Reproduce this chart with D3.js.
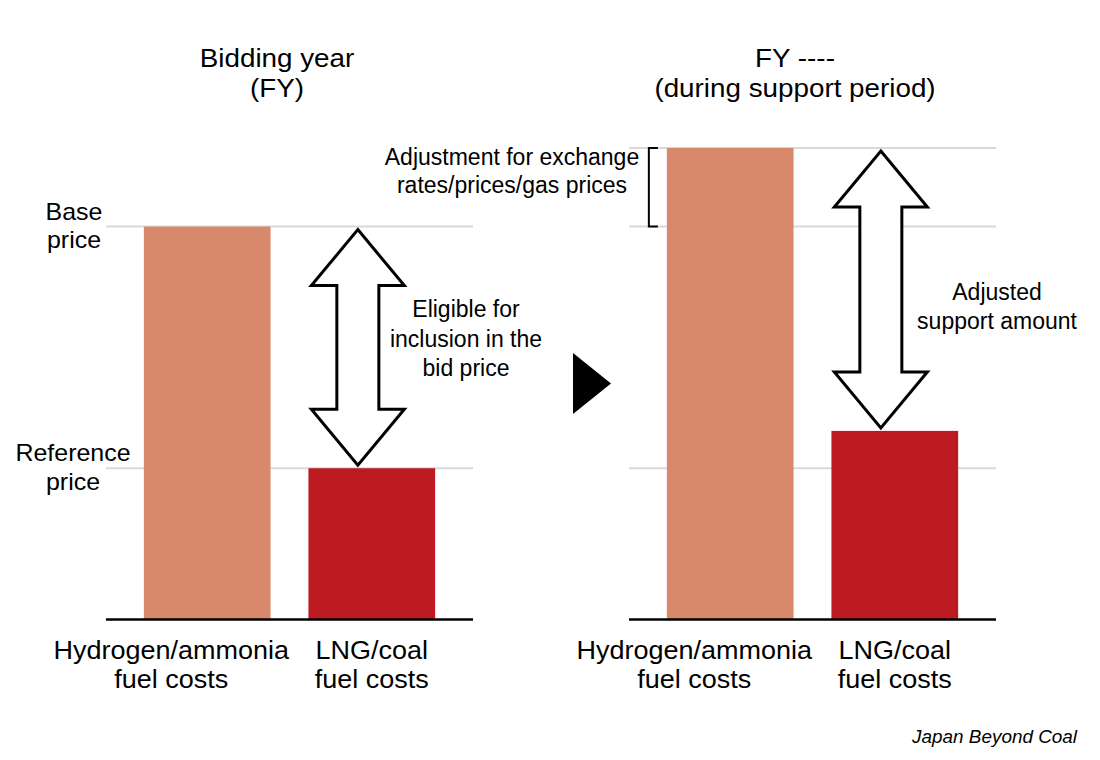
<!DOCTYPE html>
<html>
<head>
<meta charset="utf-8">
<script src="https://cdn.jsdelivr.net/npm/d3@7"></script>
<style>
  body { margin: 0; background: #fff; }
  text { font-family: "Liberation Sans", Arial, sans-serif; fill: #000; }
</style>
</head>
<body>
<script>
// data
var categories = ["Hydrogen/ammonia fuel costs", "LNG/coal fuel costs"];
var biddingValues = [100, 38.5];   // base price, reference price
var supportValues = [120, 48];     // adjusted hydrogen cost, adjusted LNG/coal cost
var biddingTicks = [100, 38.5];
var supportTicks = [120, 100, 38.5];
var colors = ["#D9896B", "#BE1A22"];

var width = 1100;
var height = 760;

var svg = d3.select("body")
    .append("svg")
    .attr("width", width)
    .attr("height", height);

var y = d3.scaleLinear().domain([0, 120]).range([619.5, 148]);

// sx: horizontal stretch, the source text is a bit wider than Arial in places
function label(x, yy, lines, size, lineH, sx, style, anchor) {
    lines.forEach(function(t, i) {
        svg.append("text")
            .attr("transform", "translate(" + x + "," + (yy + i * lineH) + ") scale(" + sx + ",1)")
            .attr("text-anchor", anchor || "middle")
            .attr("font-size", size)
            .attr("font-style", style || "normal")
            .text(t);
    });
}

function arrow(cx, y0, y1) {
    var hw = 46.5, sw = 21, hh = 56;
    var pts = [
        [cx, y0], [cx + hw, y0 + hh], [cx + sw, y0 + hh], [cx + sw, y1 - hh],
        [cx + hw, y1 - hh], [cx, y1], [cx - hw, y1 - hh], [cx - sw, y1 - hh],
        [cx - sw, y0 + hh], [cx - hw, y0 + hh]
    ];
    svg.append("path")
        .attr("d", d3.line()(pts) + "Z")
        .attr("fill", "#fff")
        .attr("stroke", "#000")
        .attr("stroke-width", 3)
        .attr("stroke-linejoin", "miter");
}

function panel(x0, x1, values, ticks) {
    var x = d3.scaleBand().domain(categories).range([x0, x1])
        .paddingInner(0.23).paddingOuter(0.23);

    svg.append("g").selectAll("line")
        .data(ticks)
        .enter()
        .append("line")
        .attr("x1", x0).attr("x2", x1)
        .attr("y1", function(d) { return y(d); })
        .attr("y2", function(d) { return y(d); })
        .attr("stroke", "#D9D9D9")
        .attr("stroke-width", 2);

    svg.append("g").selectAll("rect")
        .data(values)
        .enter()
        .append("rect")
        .attr("x", function(d, i) { return x(categories[i]); })
        .attr("width", x.bandwidth())
        .attr("y", function(d) { return y(d); })
        .attr("height", function(d) { return y(0) - y(d); })
        .attr("fill", function(d, i) { return colors[i]; });

    svg.append("line")
        .attr("x1", x0).attr("x2", x1)
        .attr("y1", y(0)).attr("y2", y(0))
        .attr("stroke", "#000")
        .attr("stroke-width", 2.5);

    label(x(categories[0]) + x.bandwidth() / 2 - 36, 659, ["Hydrogen/ammonia", "fuel costs"], 25, 29, 1.08);
    label(x(categories[1]) + x.bandwidth() / 2, 659, ["LNG/coal", "fuel costs"], 25, 29, 1.08);

    arrow(x(categories[1]) + x.bandwidth() * 0.39, y(values[0]) + 3, y(values[1]) - 3);
    return x;
}

var xl = panel(106, 473, biddingValues, biddingTicks);
var xr = panel(629, 996, supportValues, supportTicks);

// titles
label(277, 67, ["Bidding year", "(FY)"], 26, 30, 1.07);
label(795, 67, ["FY ----", "(during support period)"], 26, 30, 1.07);

// price labels
label(74, y(biddingValues[0]) - 7, ["Base", "price"], 24, 28, 1.04);
label(73, y(biddingValues[1]) - 7, ["Reference", "price"], 24, 29, 1.04);

// annotations
label(466, 317, ["Eligible for", "inclusion in the", "bid price"], 23, 29.5, 1);
label(997, 300, ["Adjusted", "support amount"], 23, 29, 1);
label(512, 165, ["Adjustment for exchange", "rates/prices/gas prices"], 23, 28, 1);

// bracket for adjustment
var bx = xr(categories[0]) - 18;
svg.append("path")
    .attr("d", "M" + (bx + 9) + "," + y(supportValues[0]) + "H" + bx + "V" + y(biddingValues[0]) + "H" + (bx + 9))
    .attr("fill", "none")
    .attr("stroke", "#000")
    .attr("stroke-width", 2);

// transition triangle
svg.append("path")
    .attr("d", d3.line()([[573, 353], [611, 383.5], [573, 414]]) + "Z")
    .attr("fill", "#000");

// source
label(1077, 743, ["Japan Beyond Coal"], 17.5, 0, 1.08, "italic", "end");
</script>
</body>
</html>
